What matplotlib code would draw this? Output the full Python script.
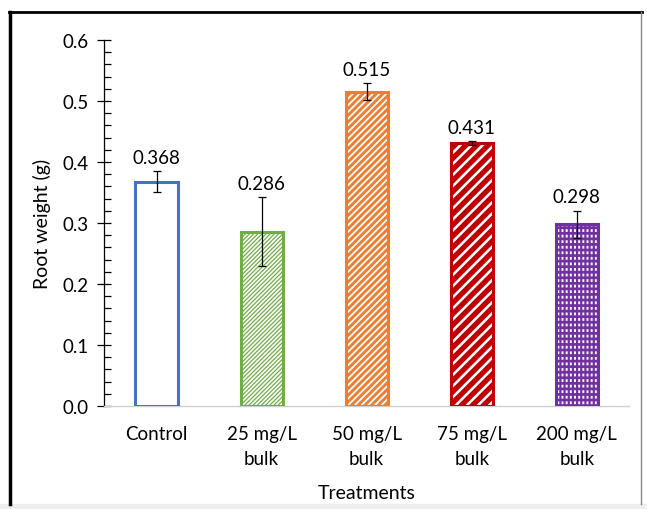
import matplotlib
matplotlib.use("Agg")
import matplotlib.pyplot as plt
from matplotlib.lines import Line2D
from matplotlib.patches import Rectangle
from matplotlib.ticker import MultipleLocator

# Root weight per treatment
treatments = ["Control", "25 mg/L\nbulk", "50 mg/L\nbulk", "75 mg/L\nbulk", "200 mg/L\nbulk"]
root_weight = [0.368, 0.286, 0.515, 0.431, 0.298]
std_err = [0.017, 0.056, 0.014, 0.003, 0.022]
colors = ["#4472C4", "#70AD47", "#ED7D31", "#C00000", "#7030A0"]

plt.rcParams['font.family'] = ['Lato', 'DejaVu Sans']

fig = plt.figure(figsize=(6.47, 5.10), dpi=100)
ax = fig.add_axes([0.1607, 0.202, 0.812, 0.7176])

x = list(range(len(treatments)))
w = 0.4

def hatched_bar(i, face, hatch, hatch_color, lw):
    with plt.rc_context({'hatch.linewidth': lw, 'hatch.color': hatch_color}):
        ax.bar(x[i], root_weight[i], width=w, color=face, hatch=hatch,
               edgecolor=hatch_color, linewidth=0, zorder=2)

# Control: plain outline
ax.bar(x[0], root_weight[0], width=w, color="white", zorder=2)
# 25 mg/L: fine green diagonals on white
hatched_bar(1, "white", "////////", colors[1], 0.9)
# 50 mg/L: orange with white diagonals
hatched_bar(2, colors[2], "/////", "white", 1.3)
# 75 mg/L: wide red / white stripes
hatched_bar(3, "white", "///", colors[3], 3.8)
# 200 mg/L: purple with white dashes
hatched_bar(4, colors[4], "---", "white", 2.0)
hatched_bar(4, "none", "||||", colors[4], 1.6)

# coloured outlines on top
for i in x:
    ax.bar(x[i], root_weight[i], width=w, color="none", edgecolor=colors[i],
           linewidth=2.2, zorder=3)

ax.errorbar(x, root_weight, yerr=std_err, fmt="none", ecolor="black",
            elinewidth=0.9, capsize=3, capthick=0.9, zorder=4)

for i in x:
    top = root_weight[i] + std_err[i]
    ax.text(x[i], top + 0.009, f"{root_weight[i]:.3f}", ha="center",
            va="bottom", fontsize=13.5)

ax.set_xlim(-0.5, len(treatments) - 0.5)
ax.set_ylim(0, 0.6)
ax.yaxis.set_major_locator(MultipleLocator(0.1))
ax.yaxis.set_minor_locator(MultipleLocator(0.02))
ax.yaxis.set_major_formatter(matplotlib.ticker.FormatStrFormatter("%.1f"))
ax.tick_params(axis="y", which="major", direction="inout", length=10,
               width=0.9, labelsize=13.5, pad=6)
ax.tick_params(axis="y", which="minor", direction="in", length=5, width=0.9)
ax.set_xticks(x)
ax.set_xticklabels(treatments, fontsize=13.5, linespacing=1.55)
ax.tick_params(axis="x", length=0, pad=14)

for s in ["top", "right"]:
    ax.spines[s].set_visible(False)
ax.spines["left"].set_linewidth(0.9)
ax.spines["bottom"].set_color("#d0d0d0")
ax.spines["bottom"].set_linewidth(1.0)

ax.set_ylabel("Root weight (g)", fontsize=14, labelpad=8)
ax.set_xlabel("Treatments", fontsize=14, labelpad=12)

# outer frame
fig.add_artist(Rectangle((0, 0), 1, 5 / 510, transform=fig.transFigure,
                         color="#eeeeee", zorder=0))
fig.add_artist(Line2D([10 / 647, 10 / 647], [5 / 510, 497 / 510],
                      transform=fig.transFigure, color="black", lw=2.5))
fig.add_artist(Line2D([9 / 647, 642 / 647], [497 / 510, 497 / 510],
                      transform=fig.transFigure, color="black", lw=2.0))
fig.add_artist(Line2D([641 / 647, 641 / 647], [5 / 510, 497 / 510],
                      transform=fig.transFigure, color="#888888", lw=1.0))

plt.savefig("out.png", dpi=100)
